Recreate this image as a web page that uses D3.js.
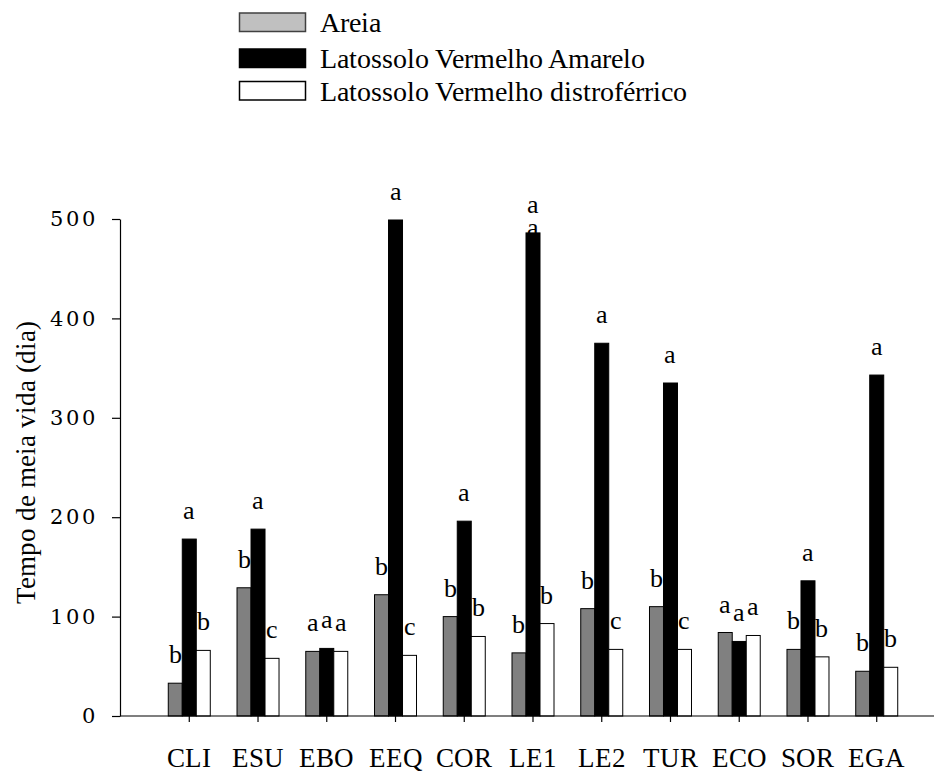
<!DOCTYPE html>
<html>
<head>
<meta charset="utf-8">
<script src="https://cdn.jsdelivr.net/npm/d3@7"></script>
<style>
  @font-face { font-family: "ChartSerif"; src: local("Liberation Serif"), local("LiberationSerif-Regular"), local("Times New Roman"), local("DejaVu Serif"); }
  @font-face { font-family: "TickSerif"; src: local("DejaVu Serif"), local("DejaVuSerif"), local("Liberation Serif"); }
  body { margin: 0; background: #fff; }
  svg { display: block; }
  svg text { font-family: "ChartSerif", "Liberation Serif", "Times New Roman", serif; }
  svg .ytick text { font-family: "TickSerif", "DejaVu Serif", serif; }
</style>
</head>
<body>
<svg id="chart" width="934" height="771"></svg>
<script>
// Half-life (days) per herbicide formulation in three soils
const categories = ["CLI", "ESU", "EBO", "EEQ", "COR", "LE1", "LE2", "TUR", "ECO", "SOR", "EGA"];
const seriesNames = ["Areia", "Latossolo Vermelho Amarelo", "Latossolo Vermelho distroférrico"];
const areia = [33, 129, 65, 122, 100, 63.5, 108, 110, 84, 67, 45];
const lva   = [178, 188, 68, 499, 196, 486, 375, 335, 75, 136, 343];
const lvd   = [66, 58, 65, 61, 80, 93, 67, 67, 81, 59.5, 49];
// Mean-comparison letters for each bar
const lettersAreia = ["b", "b", "a", "b", "b", "b", "b", "b", "a", "b", "b"];
const lettersLVA   = ["a", "a", "a", "a", "a", "a", "a", "a", "a", "a", "a"];
const lettersLVD   = ["b", "c", "a", "c", "b", "b", "c", "c", "a", "b", "b"];
// A stray duplicate letter that sits behind the LE1 bar
const hiddenLetters = [{ category: "LE1", series: 1, text: "a" }];
const yTicks = [0, 100, 200, 300, 400, 500];
const yTitle = "Tempo de meia vida (dia)";

const values = [areia, lva, lvd];
const letters = [lettersAreia, lettersLVA, lettersLVD];
const barFill = ["#808080", "#000000", "#ffffff"];
const swatchFill = ["#c0c0c0", "#000000", "#ffffff"];

const svg = d3.select("#chart");

const x = d3.scaleBand()
  .domain(categories)
  .range([154.9, 911.1])
  .paddingInner(0.389)
  .paddingOuter(0.1945);
const sub = d3.scaleBand().domain([0, 1, 2]).range([0, x.bandwidth()]);
const y = d3.scaleLinear().domain([0, 500]).range([716, 219]);

// Letters hidden behind bars (drawn first)
svg.append("g").selectAll("text")
  .data(hiddenLetters)
  .join("text")
  .attr("x", d => x(d.category) + sub(d.series) + sub.bandwidth() / 2)
  .attr("y", d => y(values[d.series][categories.indexOf(d.category)]) + 3)
  .attr("text-anchor", "middle")
  .attr("font-size", 26)
  .text(d => d.text);

// Bars
const groups = svg.append("g").selectAll("g")
  .data(categories)
  .join("g")
  .attr("transform", d => `translate(${x(d)},0)`);

groups.selectAll("rect")
  .data((c, i) => values.map((v, s) => ({ s, v: v[i] })))
  .join("rect")
  .attr("x", d => sub(d.s))
  .attr("width", sub.bandwidth())
  .attr("y", d => y(d.v))
  .attr("height", d => y(0) - y(d.v))
  .attr("fill", d => barFill[d.s])
  .attr("stroke", "#000")
  .attr("stroke-width", 1);

// Letters above bars
groups.selectAll("text")
  .data((c, i) => values.map((v, s) => ({ s, v: v[i], t: letters[s][i] })))
  .join("text")
  .attr("x", d => sub(d.s) + sub.bandwidth() / 2)
  .attr("y", d => y(d.v) - 20)
  .attr("text-anchor", "middle")
  .attr("font-size", 26)
  .text(d => d.t);

// Y axis
const yAxis = svg.append("g")
  .attr("class", "ytick")
  .attr("transform", "translate(120,0)")
  .call(d3.axisLeft(y).tickValues(yTicks).tickFormat(d3.format("d")).tickSize(8).tickSizeOuter(0).tickPadding(14));
yAxis.attr("font-family", null);
yAxis.select(".domain").attr("stroke", "#000").attr("stroke-width", 1.2);
yAxis.selectAll(".tick line").attr("stroke", "#000").attr("stroke-width", 1.2);
yAxis.selectAll(".tick text")
  .attr("fill", "#000")
  .attr("font-size", 21)
  .style("letter-spacing", "3px");

// X axis
svg.append("line")
  .attr("x1", 120).attr("x2", 934)
  .attr("y1", y(0)).attr("y2", y(0))
  .attr("stroke", "#000").attr("stroke-width", 1.2);
const xAxis = svg.append("g")
  .attr("transform", `translate(0,${y(0)})`)
  .call(d3.axisBottom(x).tickSize(6).tickSizeOuter(0));
xAxis.attr("font-family", null);
xAxis.select(".domain").remove();
xAxis.selectAll(".tick line").attr("stroke", "#000").attr("stroke-width", 1.2);
xAxis.selectAll(".tick text")
  .attr("fill", "#000")
  .attr("dy", null)
  .attr("y", 50.5)
  .attr("font-size", 27);

// Y axis title
svg.append("text")
  .attr("transform", "translate(35,462) rotate(-90)")
  .attr("text-anchor", "middle")
  .attr("font-size", 27)
  .text(yTitle);

// Legend
const legendRows = [13, 49, 81.5];
const legend = svg.append("g").selectAll("g")
  .data(seriesNames)
  .join("g")
  .attr("transform", (d, i) => `translate(0,${legendRows[i]})`);
legend.append("rect")
  .attr("x", 239.5).attr("y", 0)
  .attr("width", 66).attr("height", 18.5)
  .attr("fill", (d, i) => swatchFill[i])
  .attr("stroke", (d, i) => i === 0 ? "#404040" : "#000")
  .attr("stroke-width", 1.5);
legend.append("text")
  .attr("x", 320).attr("y", 19)
  .attr("font-size", 28)
  .text(d => d);
</script>
</body>
</html>
